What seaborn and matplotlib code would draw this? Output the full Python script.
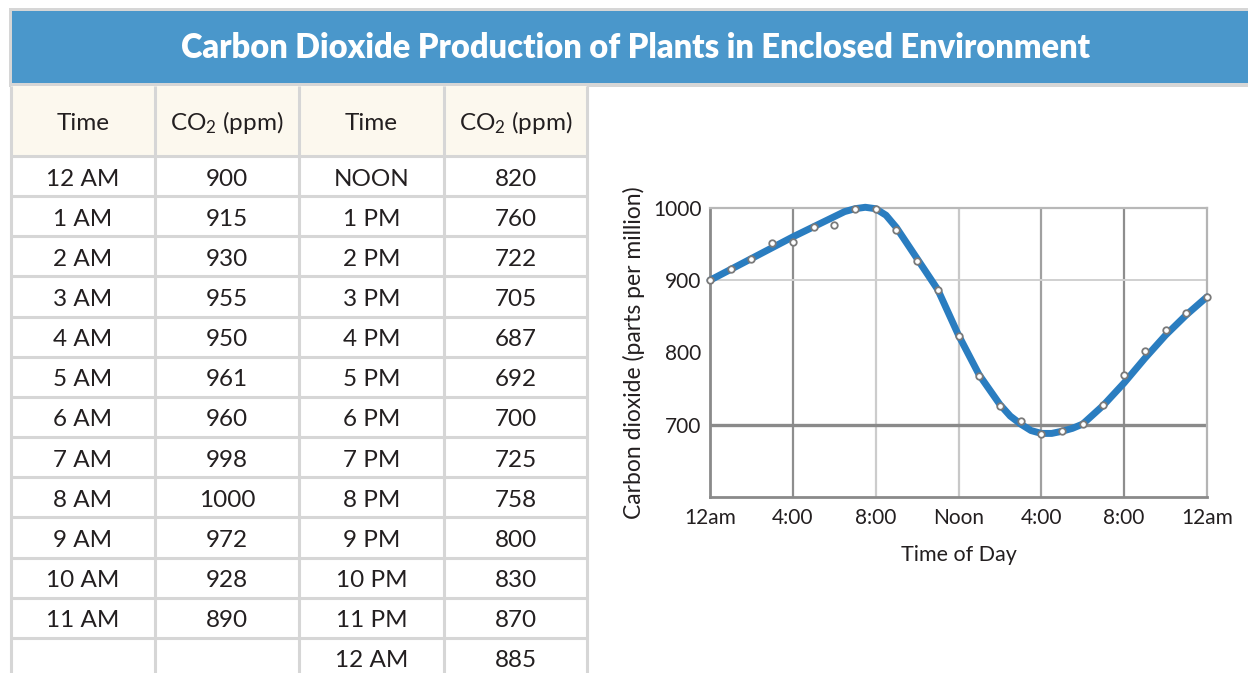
import numpy as np
import pandas as pd
import matplotlib
matplotlib.use("Agg")
import matplotlib.pyplot as plt
import seaborn as sns
from matplotlib.patches import Rectangle

# ---------------- data ----------------
am_times = ["12 AM", "1 AM", "2 AM", "3 AM", "4 AM", "5 AM", "6 AM",
            "7 AM", "8 AM", "9 AM", "10 AM", "11 AM"]
am_co2 = [900, 915, 930, 955, 950, 961, 960, 998, 1000, 972, 928, 890]
pm_times = ["NOON", "1 PM", "2 PM", "3 PM", "4 PM", "5 PM", "6 PM",
            "7 PM", "8 PM", "9 PM", "10 PM", "11 PM", "12 AM"]
pm_co2 = [820, 760, 722, 705, 687, 692, 700, 725, 758, 800, 830, 870, 885]

# hourly points as they appear in the graph (hour of day, ppm)
point_hours = list(range(25))
point_ppm = [900, 916, 930, 951, 953, 974, 977, 999, 999, 970, 926, 887, 823,
             767, 726, 705, 687, 691, 701, 728, 769, 802, 831, 855, 877]

# smooth fitted curve (hour of day, ppm)
curve_hours = [0, 1, 2, 3, 4, 5, 6, 6.5, 7, 7.5, 8, 8.5, 9, 10, 11, 12, 13, 14,
               14.5, 15, 15.5, 16, 16.5, 17, 17.5, 18, 19, 20, 21, 22, 23, 24]
curve_ppm = [900, 915, 930, 945, 960, 974, 988, 995, 999, 1001, 999, 990, 973,
             930, 887, 824, 769, 728, 712, 701, 692, 688, 688, 691, 695, 701,
             727, 758, 792, 824, 852, 877]

x_ticks = [0, 4, 8, 12, 16, 20, 24]
x_tick_labels = ["12am", "4:00", "8:00", "Noon", "4:00", "8:00", "12am"]
y_ticks = [700, 800, 900, 1000]

title = "Carbon Dioxide Production of Plants in Enclosed Environment"
headers = ["Time", "CO$_2$ (ppm)", "Time", "CO$_2$ (ppm)"]

# ---------------- style ----------------
sns.set_theme(style="white")
FONT = ["Lato", "DejaVu Sans"]
plt.rcParams["font.family"] = FONT
plt.rcParams["mathtext.fontset"] = "custom"
plt.rcParams["mathtext.rm"] = "Lato"
plt.rcParams["mathtext.default"] = "regular"

W, H = 1248, 673
fig = plt.figure(figsize=(W / 100, H / 100), dpi=100)
fig.patch.set_facecolor("white")

# overlay axes in pixel coordinates for banner + table
ax0 = fig.add_axes([0, 0, 1, 1])
ax0.set_xlim(0, W)
ax0.set_ylim(H, 0)
ax0.axis("off")

grey_line = "#d6d6d6"
# banner border + banner
ax0.add_patch(Rectangle((9, 8), W - 9, 79, facecolor=grey_line, edgecolor="none"))
ax0.add_patch(Rectangle((12, 11), W - 12, 72, facecolor="#4a97cb", edgecolor="none"))
ax0.text(636, 48, title, ha="center", va="center", color="white",
         fontsize=23.5, fontweight="heavy")

# table
col_edges = [11, 155, 299, 444, 587]
header_top, header_bot = 86, 156
row_h = 40.15
n_rows = len(pm_times)
table_bottom = header_bot + row_h * (n_rows + 0.2)

ax0.add_patch(Rectangle((col_edges[0], header_top), col_edges[-1] - col_edges[0],
                        header_bot - header_top, facecolor="#fcf8ee", edgecolor="none"))
lw = 2.2
for xe in col_edges:
    ax0.plot([xe, xe], [header_top, table_bottom], color=grey_line, lw=lw,
             solid_capstyle="butt")
for i in range(n_rows + 1):
    yy = header_bot + i * row_h
    ax0.plot([col_edges[0], col_edges[-1]], [yy, yy], color=grey_line, lw=lw,
             solid_capstyle="butt")

centers = [(col_edges[i] + col_edges[i + 1]) / 2 for i in range(4)]
txt_color = "#231f20"
TFS = 17.5
for c, htxt in zip(centers, headers):
    ax0.text(c, 123, htxt, ha="center", va="center", fontsize=TFS, color=txt_color)

for i in range(n_rows):
    yc = header_bot + (i + 0.5) * row_h + 3
    if i < len(am_times):
        ax0.text(centers[0], yc, am_times[i], ha="center", va="center",
                 fontsize=TFS, color=txt_color)
        ax0.text(centers[1], yc, str(am_co2[i]), ha="center", va="center",
                 fontsize=TFS, color=txt_color)
    ax0.text(centers[2], yc, pm_times[i], ha="center", va="center",
             fontsize=TFS, color=txt_color)
    ax0.text(centers[3], yc, str(pm_co2[i]), ha="center", va="center",
             fontsize=TFS, color=txt_color)

# ---------------- chart ----------------
left, right, top, bottom = 710, 1207, 208, 497
ax = fig.add_axes([left / W, (H - bottom) / H, (right - left) / W, (bottom - top) / H])
ax.set_facecolor("white")
ax.patch.set_alpha(0)

pts = pd.DataFrame({"hour": point_hours, "ppm": point_ppm})
curve = pd.DataFrame({"hour": curve_hours, "ppm": curve_ppm})

ax.set_xlim(0, 24)
ax.set_ylim(600, 1000)

# grid lines
vcolors = {4: "#8e8e8e", 8: "#cccccc", 12: "#c8c8c8", 16: "#a0a0a0", 20: "#8e8e8e"}
for xv, col in vcolors.items():
    ax.axvline(xv, color=col, lw=1.6, zorder=1)
ax.axhline(900, color="#d0d0d0", lw=1.4, zorder=1)
ax.axhline(700, color="#8a8a8a", lw=2.4, zorder=1)

sns.lineplot(data=curve, x="hour", y="ppm", ax=ax, color="#2a7dc0", lw=5.0,
             zorder=3, clip_on=False, solid_capstyle="round", solid_joinstyle="round")
sns.scatterplot(data=pts, x="hour", y="ppm", ax=ax, s=22, color="white",
                edgecolor="#7a7a7a", linewidth=1.3, zorder=4, clip_on=False)

for side, col, w in [("left", "#8a8a8a", 2.0), ("bottom", "#8a8a8a", 2.0),
                     ("top", "#b8b8b8", 1.6), ("right", "#b4b4b4", 1.6)]:
    ax.spines[side].set_visible(True)
    ax.spines[side].set_color(col)
    ax.spines[side].set_linewidth(w)
    ax.spines[side].set_zorder(2)

ax.set_xticks(x_ticks)
ax.set_xticklabels(x_tick_labels, fontsize=15, color=txt_color)
ax.set_yticks(y_ticks)
ax.set_yticklabels([str(v) for v in y_ticks], fontsize=15, color=txt_color)
ax.tick_params(axis="both", length=0, pad=6)
ax.tick_params(axis="x", pad=8)
ax.set_xlabel("Time of Day", fontsize=15.5, color=txt_color, labelpad=12)
ax.set_ylabel("Carbon dioxide (parts per million)", fontsize=16.5, color=txt_color,
              labelpad=6)

fig.savefig("out.png", dpi=100, facecolor="white")
